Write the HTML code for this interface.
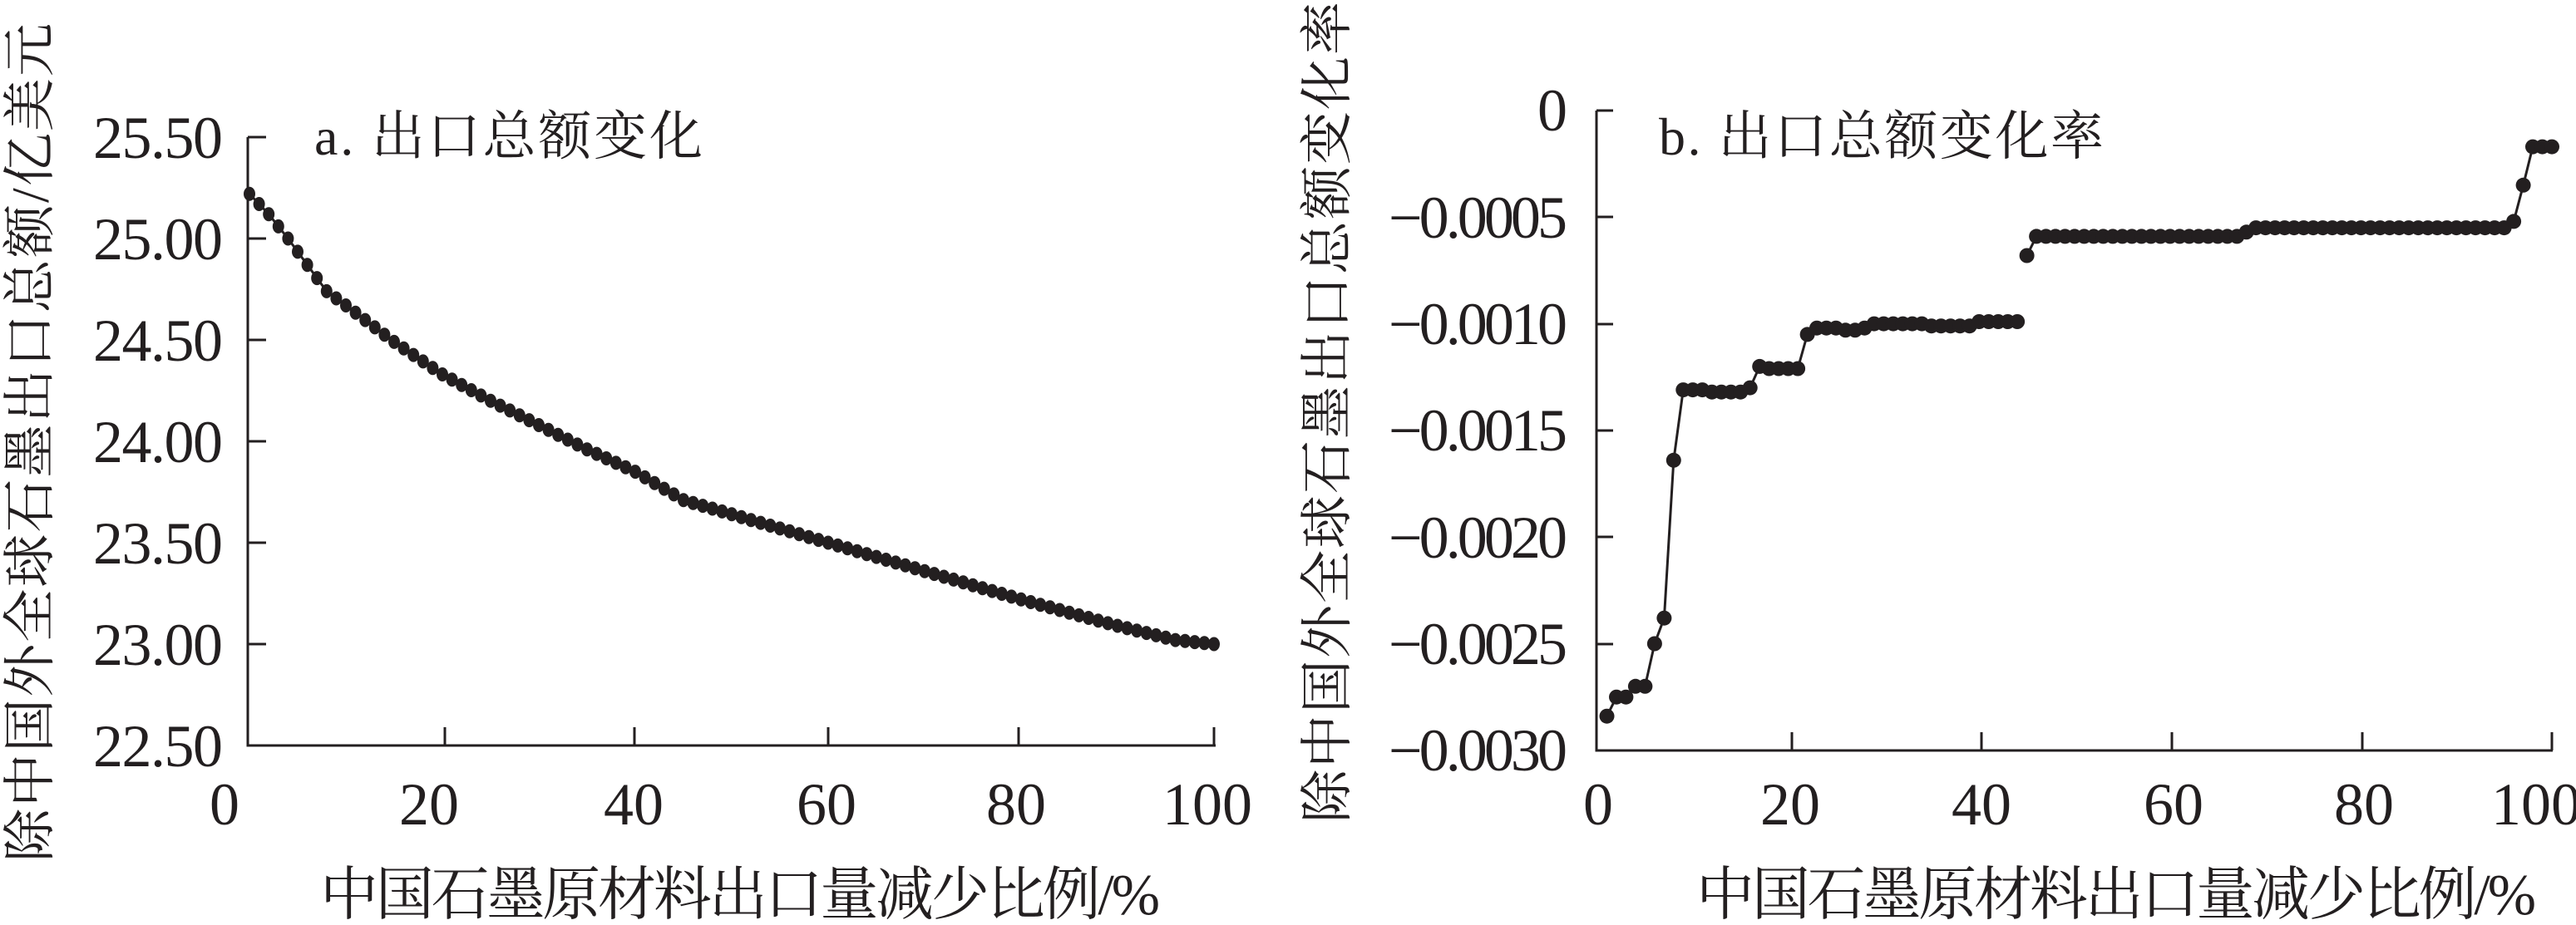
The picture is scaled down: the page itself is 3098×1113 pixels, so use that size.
<!DOCTYPE html>
<html><head><meta charset="utf-8"><style>html,body{margin:0;padding:0;background:#fff}svg{display:block}
text{font-family:"Liberation Serif","Noto Serif CJK SC",serif}
</style></head>
<body>
<svg width="3098" height="1113" viewBox="0 0 3098 1113" xmlns="http://www.w3.org/2000/svg">
<g fill="#231f20">
<g stroke="#231f20" stroke-width="3" fill="none">
<path d="M298,165 V897 H1462"/>
<path d="M298,165h22M298,409h22M298,653h22M298,897h22M298,287h22M298,531h22M298,775h22"/>
<path d="M535,897v-22M763,897v-22M996,897v-22M1225,897v-22M1460,897v-22"/>
</g>
<g font-size="72" text-anchor="end">
<text x="268" y="190" textLength="156">25.50</text>
<text x="268" y="312" textLength="156">25.00</text>
<text x="268" y="434" textLength="156">24.50</text>
<text x="268" y="556" textLength="156">24.00</text>
<text x="268" y="678" textLength="156">23.50</text>
<text x="268" y="800" textLength="156">23.00</text>
<text x="268" y="922" textLength="156">22.50</text>
</g>
<g font-size="72" text-anchor="middle">
<text x="270" y="992">0</text><text x="516" y="992">20</text><text x="762" y="992">40</text><text x="994" y="992">60</text><text x="1222" y="992">80</text><text x="1452" y="992">100</text>
</g>
<text x="378" y="186" font-size="64" textLength="467">a. 出口总额变化</text>
<text x="385" y="1100" font-size="70" textLength="1010">中国石墨原材料出口量减少比例/%</text>
<text transform="translate(58,1037) rotate(-90)" font-size="64" textLength="1009">除中国外全球石墨出口总额/亿美元</text>
<g id="da"></g>
<g stroke="#231f20" stroke-width="3" fill="none">
<path d="M1920,133 V903 H3070"/>
<path d="M1920,133h20M1920,261h20M1920,390h20M1920,518h20M1920,646h20M1920,775h20"/>
<path d="M2155,903v-22M2383,903v-22M2612,903v-22M2841,903v-22M3069,903v-22"/>
</g>
<g font-size="72" text-anchor="end">
<text x="1885" y="157">0</text>
<text x="1885" y="286" textLength="215">−0.0005</text>
<text x="1885" y="414" textLength="215">−0.0010</text>
<text x="1885" y="542" textLength="215">−0.0015</text>
<text x="1885" y="671" textLength="215">−0.0020</text>
<text x="1885" y="799" textLength="215">−0.0025</text>
<text x="1885" y="927" textLength="215">−0.0030</text>
</g>
<g font-size="72" text-anchor="middle">
<text x="1922" y="992">0</text><text x="2153" y="992">20</text><text x="2383" y="992">40</text><text x="2614" y="992">60</text><text x="2843" y="992">80</text><text x="3050" y="992">100</text>
</g>
<text x="1995" y="186" font-size="64" textLength="535">b. 出口总额变化率</text>
<text x="2040" y="1100" font-size="70" textLength="1010">中国石墨原材料出口量减少比例/%</text>
<text transform="translate(1618,990) rotate(-90)" font-size="64" textLength="988">除中国外全球石墨出口总额变化率</text>
<g id="db"></g>
</g>
</svg>
<script>
(function(){
function interp(pts,x){for(var i=0;i<pts.length-1;i++){if(x<=pts[i+1][0]){var a=pts[i],b=pts[i+1];return a[1]+(b[1]-a[1])*(x-a[0])/(b[0]-a[0]);}}return pts[pts.length-1][1];}
var A=[[0,25.22],[2,25.12],[4,25.0],[6,24.87],[8,24.74],[10,24.67],[15,24.49],[20,24.33],[25,24.2],[30,24.08],[35,23.96],[40,23.85],[45,23.71],[50,23.64],[60,23.5],[70,23.36],[80,23.22],[90,23.09],[96,23.02],[100,23.0]];
var ga=document.getElementById('da'),d="",c="";
for(var x=0;x<=100;x++){var px=300+x*11.6,py=165+(25.5-interp(A,x))*244;d+=(x?"L":"M")+px.toFixed(1)+","+py.toFixed(1);c+='<ellipse cx="'+px.toFixed(1)+'" cy="'+py.toFixed(1)+'" rx="7" ry="8.5" fill="#231f20"/>';}
ga.innerHTML='<path d="'+d+'" stroke="#231f20" stroke-width="3" fill="none"/>'+c;
var v={1:-2.84,2:-2.75,3:-2.75,4:-2.70,5:-2.70,6:-2.50,7:-2.38,8:-1.64,9:-1.31,10:-1.31,11:-1.31,12:-1.32,13:-1.32,14:-1.32,15:-1.32,16:-1.30,17:-1.20,18:-1.21,19:-1.21,20:-1.21,21:-1.21,22:-1.05,23:-1.02,24:-1.02,25:-1.02,26:-1.03,27:-1.03,28:-1.02,29:-1.0,30:-1.0,31:-1.0,32:-1.0,33:-1.0,34:-1.0,35:-1.01,36:-1.01,37:-1.01,38:-1.01,39:-1.01,40:-0.99,41:-0.99,42:-0.99,43:-0.99,44:-0.99,45:-0.68};
for(var i=46;i<=67;i++)v[i]=-0.59;v[68]=-0.57;for(i=69;i<=95;i++)v[i]=-0.55;v[96]=-0.52;v[97]=-0.35;v[98]=-0.17;v[99]=-0.17;v[100]=-0.17;
var d1="",d2="",cc="";
for(i=1;i<=100;i++){var px=1921+i*11.48,py=133+(-v[i])/0.5*128.3;
if(i<=44)d1+=(i>1?"L":"M")+px.toFixed(1)+","+py.toFixed(1);else d2+=(i>45?"L":"M")+px.toFixed(1)+","+py.toFixed(1);
cc+='<circle cx="'+px.toFixed(1)+'" cy="'+py.toFixed(1)+'" r="9" fill="#231f20"/>';}
document.getElementById('db').innerHTML='<path d="'+d1+'" stroke="#231f20" stroke-width="3" fill="none"/><path d="'+d2+'" stroke="#231f20" stroke-width="3" fill="none"/>'+cc;
})();
</script>
</body></html>
